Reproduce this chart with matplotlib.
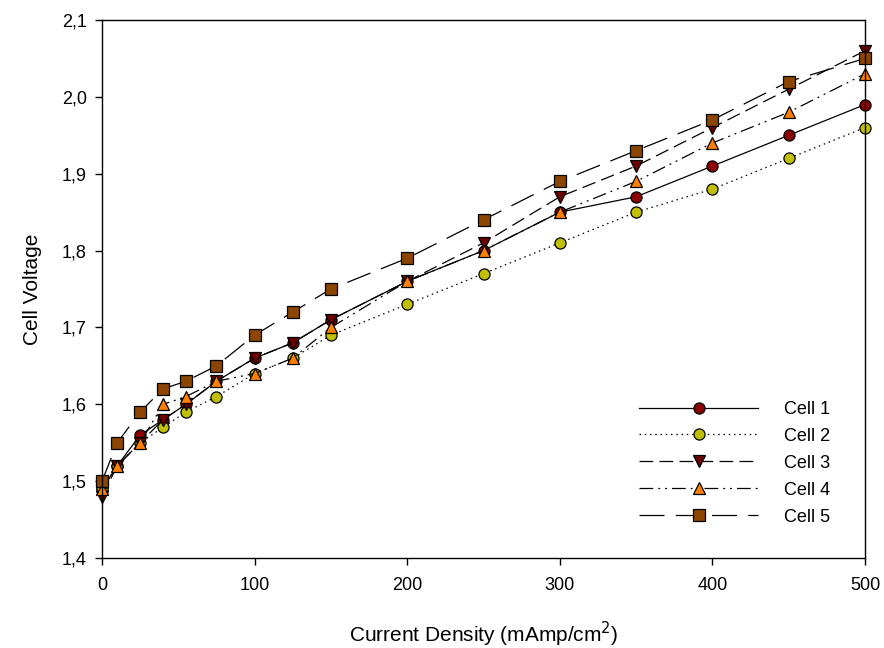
import numpy as np
import matplotlib.pyplot as plt
from matplotlib.ticker import FuncFormatter

plt.rcParams['font.family'] = ['Liberation Sans', 'DejaVu Sans']

current = [0, 10, 25, 40, 55, 75, 100, 125, 150, 200, 250, 300, 350, 400, 450, 500]
cell1 = [1.49, 1.52, 1.56, 1.58, 1.60, 1.63, 1.66, 1.68, 1.71, 1.76, 1.80, 1.85, 1.87, 1.91, 1.95, 1.99]
cell2 = [1.49, 1.52, 1.55, 1.57, 1.59, 1.61, 1.64, 1.66, 1.69, 1.73, 1.77, 1.81, 1.85, 1.88, 1.92, 1.96]
cell3 = [1.48, 1.52, 1.55, 1.58, 1.60, 1.63, 1.66, 1.68, 1.71, 1.76, 1.81, 1.87, 1.91, 1.96, 2.01, 2.06]
cell4 = [1.49, 1.52, 1.55, 1.60, 1.61, 1.63, 1.64, 1.66, 1.70, 1.76, 1.80, 1.85, 1.89, 1.94, 1.98, 2.03]
cell5 = [1.50, 1.55, 1.59, 1.62, 1.63, 1.65, 1.69, 1.72, 1.75, 1.79, 1.84, 1.89, 1.93, 1.97, 2.02, 2.05]

fig = plt.figure(figsize=(8.84, 6.48), dpi=100)
ax = fig.add_axes([0.1154, 0.1389, 0.8631, 0.8302])

mk = dict(markersize=8, markeredgecolor='black', markeredgewidth=0.9, color='black',
          linewidth=0.9, clip_on=False)
ax.plot(current, cell1, linestyle='-', marker='o', markerfacecolor='#8b0000', label='Cell 1', **mk)
ax.plot(current, cell2, linestyle=(0, (1.2, 3)), marker='o', markerfacecolor='#c0c000', label='Cell 2', **mk)
ax.plot(current, cell3, linestyle=(0, (11, 5)), marker='v', markerfacecolor='#6b0000', label='Cell 3', **mk)
ax.plot(current, cell4, linestyle=(0, (11, 4, 1.5, 4, 1.5, 4)), marker='^', markerfacecolor='#ff8000', label='Cell 4', **mk)
ax.plot(current, cell5, linestyle=(0, (20, 9)), marker='s', markerfacecolor='#8b4500', label='Cell 5', **mk)

ax.set_xlim(0, 500)
ax.set_ylim(1.4, 2.1)
ax.set_xticks(np.arange(0, 501, 100))
ax.set_yticks(np.arange(1.4, 2.101, 0.1))
ax.yaxis.set_major_formatter(FuncFormatter(lambda v, p: f'{v:.1f}'.replace('.', ',')))
ax.tick_params(direction='out', length=5, width=1, labelsize=13, pad=6, top=False, right=False)
ax.tick_params(axis='x', pad=9)
for s in ax.spines.values():
    s.set_linewidth(1)

ax.set_xlabel('Current Density (mAmp/cm$^2$)', fontsize=15, labelpad=18)
ax.set_ylabel('Cell Voltage', fontsize=15, labelpad=14)

ax.legend(loc='lower right', bbox_to_anchor=(0.975, 0.03), frameon=False, fontsize=13,
          handlelength=6.6, handletextpad=1.4, labelspacing=0.55)

fig.savefig('out.png', dpi=100)
